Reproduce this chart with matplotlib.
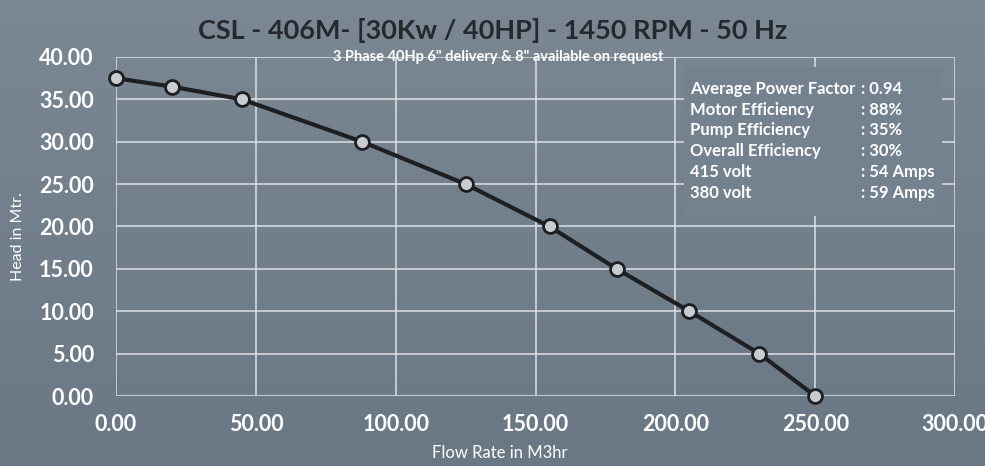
import numpy as np
import matplotlib
matplotlib.use('Agg')
import matplotlib.pyplot as plt
from matplotlib.patches import Rectangle

# pump curve data
flow = [0, 20, 45, 88, 125, 155, 179, 205, 230, 250]
head = [37.5, 36.5, 35.0, 30.0, 25.0, 20.0, 15.0, 10.0, 5.0, 0.0]

x_ticks = [0, 50, 100, 150, 200, 250, 300]
y_ticks = [0, 5, 10, 15, 20, 25, 30, 35, 40]

title = 'CSL - 406M- [30Kw / 40HP] - 1450 RPM - 50 Hz'
subtitle = '3 Phase 40Hp 6" delivery & 8" available on request'
info_labels = ['Average Power Factor', 'Motor Efficiency', 'Pump Efficiency',
               'Overall Efficiency', '415 volt', '380 volt']
info_values = [': 0.94', ': 88%', ': 35%', ': 30%', ': 54 Amps', ': 59 Amps']

plt.rcParams['font.family'] = ['Lato', 'DejaVu Sans']

fig = plt.figure(figsize=(9.85, 4.66), dpi=100)
fig.patch.set_facecolor('#707d8a')

# soft vertical gradient behind everything
bg = fig.add_axes([0, 0, 1, 1], zorder=-10)
grad = np.linspace(0, 1, 256).reshape(-1, 1)
bg.imshow(grad, aspect='auto', cmap=matplotlib.colors.LinearSegmentedColormap.from_list(
    'bg', ['#7b8894', '#6a7784']), extent=[0, 1, 0, 1], origin='upper')
bg.axis('off')

ax = fig.add_axes([0.1178, 0.1502, 0.8518, 0.7275])
ax.set_facecolor('none')
ax.set_xlim(0, 300)
ax.set_ylim(0, 40)
ax.set_xticks(x_ticks)
ax.set_yticks(y_ticks)
ax.set_xticklabels([f'{v:.2f}' for v in x_ticks])
ax.set_yticklabels([f'{v:.2f}' for v in y_ticks])
for s in ax.spines.values():
    s.set_visible(False)
ax.grid(True, color='#dde1e5', linewidth=1.1)
ax.tick_params(length=0, colors='white', labelsize=15.5)
ax.tick_params(axis='y', pad=16)
ax.tick_params(axis='x', pad=13)
for lbl in ax.get_xticklabels() + ax.get_yticklabels():
    lbl.set_fontweight('bold')

ax.plot(flow, head, color='#1e1f22', linewidth=3, marker='o', markersize=10,
        markerfacecolor='#c9ccd0', markeredgecolor='#1e1f22', markeredgewidth=2,
        clip_on=False, zorder=5)

# info box hides the grid inside the 200-300 / 20-40 cells
ax.add_patch(Rectangle((203, 21.2), 92.5, 17.6, facecolor='#74818e',
                       edgecolor='none', zorder=3))
line_y = [36.2, 33.8, 31.4, 28.9, 26.4, 23.9]
for lab, val, yy in zip(info_labels, info_values, line_y):
    ax.text(205.2, yy, lab, color='white', fontsize=12, fontweight='bold',
            va='center', ha='left', zorder=4)
    ax.text(266.5, yy, val, color='white', fontsize=12, fontweight='bold',
            va='center', ha='left', zorder=4)

ax.set_xlabel('Flow Rate in M3hr', color='white', fontsize=12)
ax.set_ylabel('Head in Mtr.', color='white', fontsize=11.5)
ax.xaxis.set_label_coords((500 - 116) / 839, -0.145)
ax.yaxis.set_label_coords(-0.108, 0.47)

fig.text(0.5, 0.935, title, color='#25292e', fontsize=19.5, fontweight='bold',
         ha='center', va='center')
fig.text(0.506, 0.877, subtitle, color='white', fontsize=10.5, fontweight='bold',
         ha='center', va='center')

fig.savefig('out.png', dpi=100, facecolor=fig.get_facecolor())
